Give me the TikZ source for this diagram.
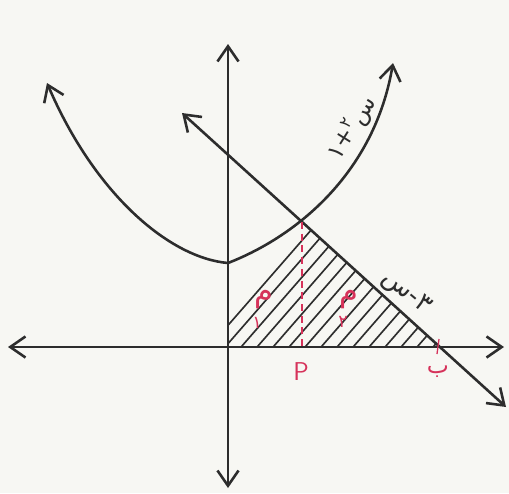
\documentclass[tikz,border=0pt]{standalone}
\usepackage{fontspec}
\usetikzlibrary{arrows.meta}
\TeXXeTstate=1
\newfontfamily\arabicfont[Script=Arabic]{DejaVu Sans}
\definecolor{ink}{RGB}{45,45,45}
\definecolor{redink}{RGB}{214,50,90}
\definecolor{paper}{RGB}{247,247,243}
\begin{document}
\begin{tikzpicture}[x=0.03cm,y=-0.03cm,
  curve/.style={draw=ink,line width=2.2pt,line cap=round,line join=round},
  tips/.style={{Straight Barb[length=13pt,width=18pt]}-{Straight Barb[length=13pt,width=18pt]}},
  hatchline/.style={draw=ink,line width=1.4pt},
  redlabel/.style={text=redink,inner sep=0pt},
  blacklabel/.style={text=ink,inner sep=0pt}]
\fill[paper] (0,0) rectangle (509,493);
\useasboundingbox (0,0) rectangle (509,493);
% coordinates
\coordinate (xl) at (8,347);
\coordinate (xr) at (504,347);
\coordinate (yt) at (228,44);
\coordinate (yb) at (228,488);
\coordinate (la) at (182,113);
\coordinate (lb) at (506,407);
\coordinate (ly) at (228,154.6);
\coordinate (V) at (228,263);
\coordinate (pl) at (47,83);
\coordinate (pr) at (393,63);
\coordinate (I) at (302,222);
\coordinate (P) at (302,347);
\coordinate (Q) at (441,347);
% hatching
\begin{scope}
\clip (228,347) -- (V) .. controls (300,235) and (375,170) .. (pr) -- (470,63) -- (470,347) -- cycle;
\clip (228,347) -- (ly) -- (Q) -- cycle;
\foreach \i in {0,...,18} \draw[hatchline] ({196+\i*16},362) -- ++(150,-172);
\end{scope}
% axes
\draw[curve,tips] (xl) -- (xr);
\draw[curve,tips] (yb) -- (yt);
% parabola
\draw[curve,tips] (pl) .. controls (95,195) and (170,258) .. (V) .. controls (300,235) and (375,170) .. (pr);
% line
\draw[curve,tips] (la) -- (lb);
% dashed red
\draw[redink,dash pattern=on 6pt off 4pt,line width=1.3pt] (I) -- (P);
\draw[redink,line width=1.1pt] (439,339) -- (437,354);
% labels
\node[blacklabel,rotate=58,font=\arabicfont\fontsize{20}{20}\selectfont] (flab) at (352,128) {\beginR س\textsuperscript{٢}+١\endR};
\node[blacklabel,rotate=-40,font=\arabicfont\fontsize{22}{22}\selectfont] (glab) at (406,293) {\beginR ٣-س\endR};
\node[redlabel,font=\arabicfont\fontsize{26}{26}\selectfont] (m1) at (264,300) {م};
\node[redlabel,font=\arabicfont\fontsize{15}{15}\selectfont] (m1s) at (257,323) {١};
\node[redlabel,font=\arabicfont\fontsize{26}{26}\selectfont] (m2) at (349,300) {م};
\node[redlabel,font=\arabicfont\fontsize{15}{15}\selectfont] (m2s) at (343,322) {٢};
\node[redlabel,font=\sffamily\fontsize{22}{22}\selectfont] (Plab) at (301,372) {P};
\node[redlabel,font=\arabicfont\fontsize{20}{20}\selectfont] (Qlab) at (438,372) {ب};
\end{tikzpicture}
\end{document}
